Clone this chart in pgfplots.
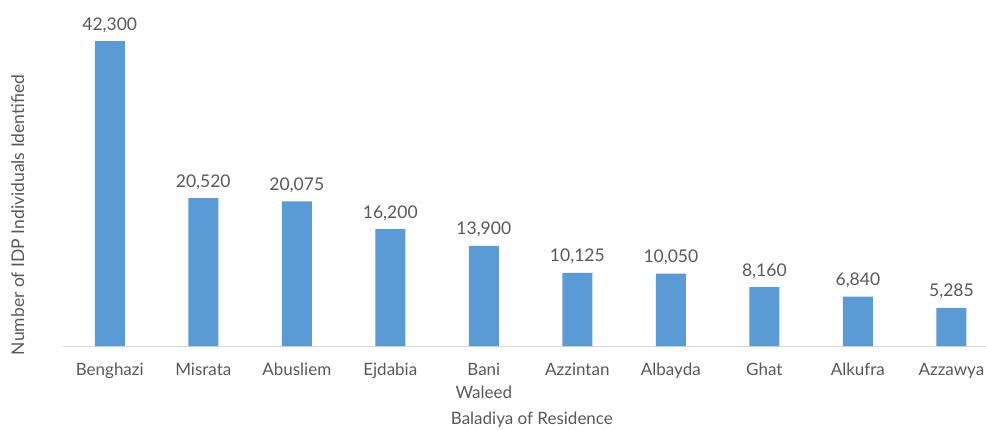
\documentclass[border=0pt]{standalone}
\usepackage{pgfplots}
\pgfplotsset{compat=1.18}
\usepackage{pgfplotstable}
\usepackage{fontspec}
\setmainfont{Lato}
\definecolor{barblue}{HTML}{5B9BD5}
\definecolor{txt}{HTML}{595959}
\definecolor{axgray}{HTML}{D9D9D9}
\pgfplotstableread{
x y lab
0 42300 42,300
1 20520 20,520
2 20075 20,075
3 16200 16,200
4 13900 13,900
5 10125 10,125
6 10050 10,050
7 8160 8,160
8 6840 6,840
9 5285 5,285
}\datatable
\begin{document}
\begin{tikzpicture}
\begin{axis}[
  at={(0,0)}, anchor=south west,
  scale only axis,
  width=923pt, height=336pt,
  xmin=-0.5, xmax=9.37,
  ymin=0, ymax=46600,
  axis x line*=bottom,
  axis y line*=left,
  x axis line style={draw=axgray, line width=0.8pt, -},
  y axis line style={draw=none},
  ytick=\empty,
  xtick=data,
  xticklabels={Benghazi,Misrata,Abusliem,Ejdabia,{Bani\\Waleed},Azzintan,Albayda,Ghat,Alkufra,Azzawya},
  major tick length=0pt,
  xticklabel style={align=center, anchor=north, inner sep=0pt, yshift=-17pt, font=\fontsize{17}{23}\selectfont, text=txt},
  xlabel={Baladiya of Residence},
  xlabel style={at={(axis description cs:0.508,-0.219)}, anchor=center, inner sep=0pt, font=\fontsize{17}{20}\selectfont, text=txt},
  ylabel={Number of IDP Individuals Identified},
  ylabel style={at={(axis description cs:-0.049,0.39)}, anchor=center, rotate=0, font=\fontsize{17.5}{20}\selectfont, text=txt},
  point meta=explicit symbolic,
  nodes near coords,
  nodes near coords style={font=\fontsize{17.5}{20}\selectfont, text=txt, anchor=base, inner sep=0pt, yshift=11pt},
  clip=false,
]
\addplot[ybar, bar width=30pt, fill=barblue, draw=none] table[x=x, y=y, meta=lab] {\datatable};
\end{axis}
\pgfresetboundingbox
\path (-63pt,-83pt) rectangle (923pt,346pt);
\end{tikzpicture}
\end{document}
